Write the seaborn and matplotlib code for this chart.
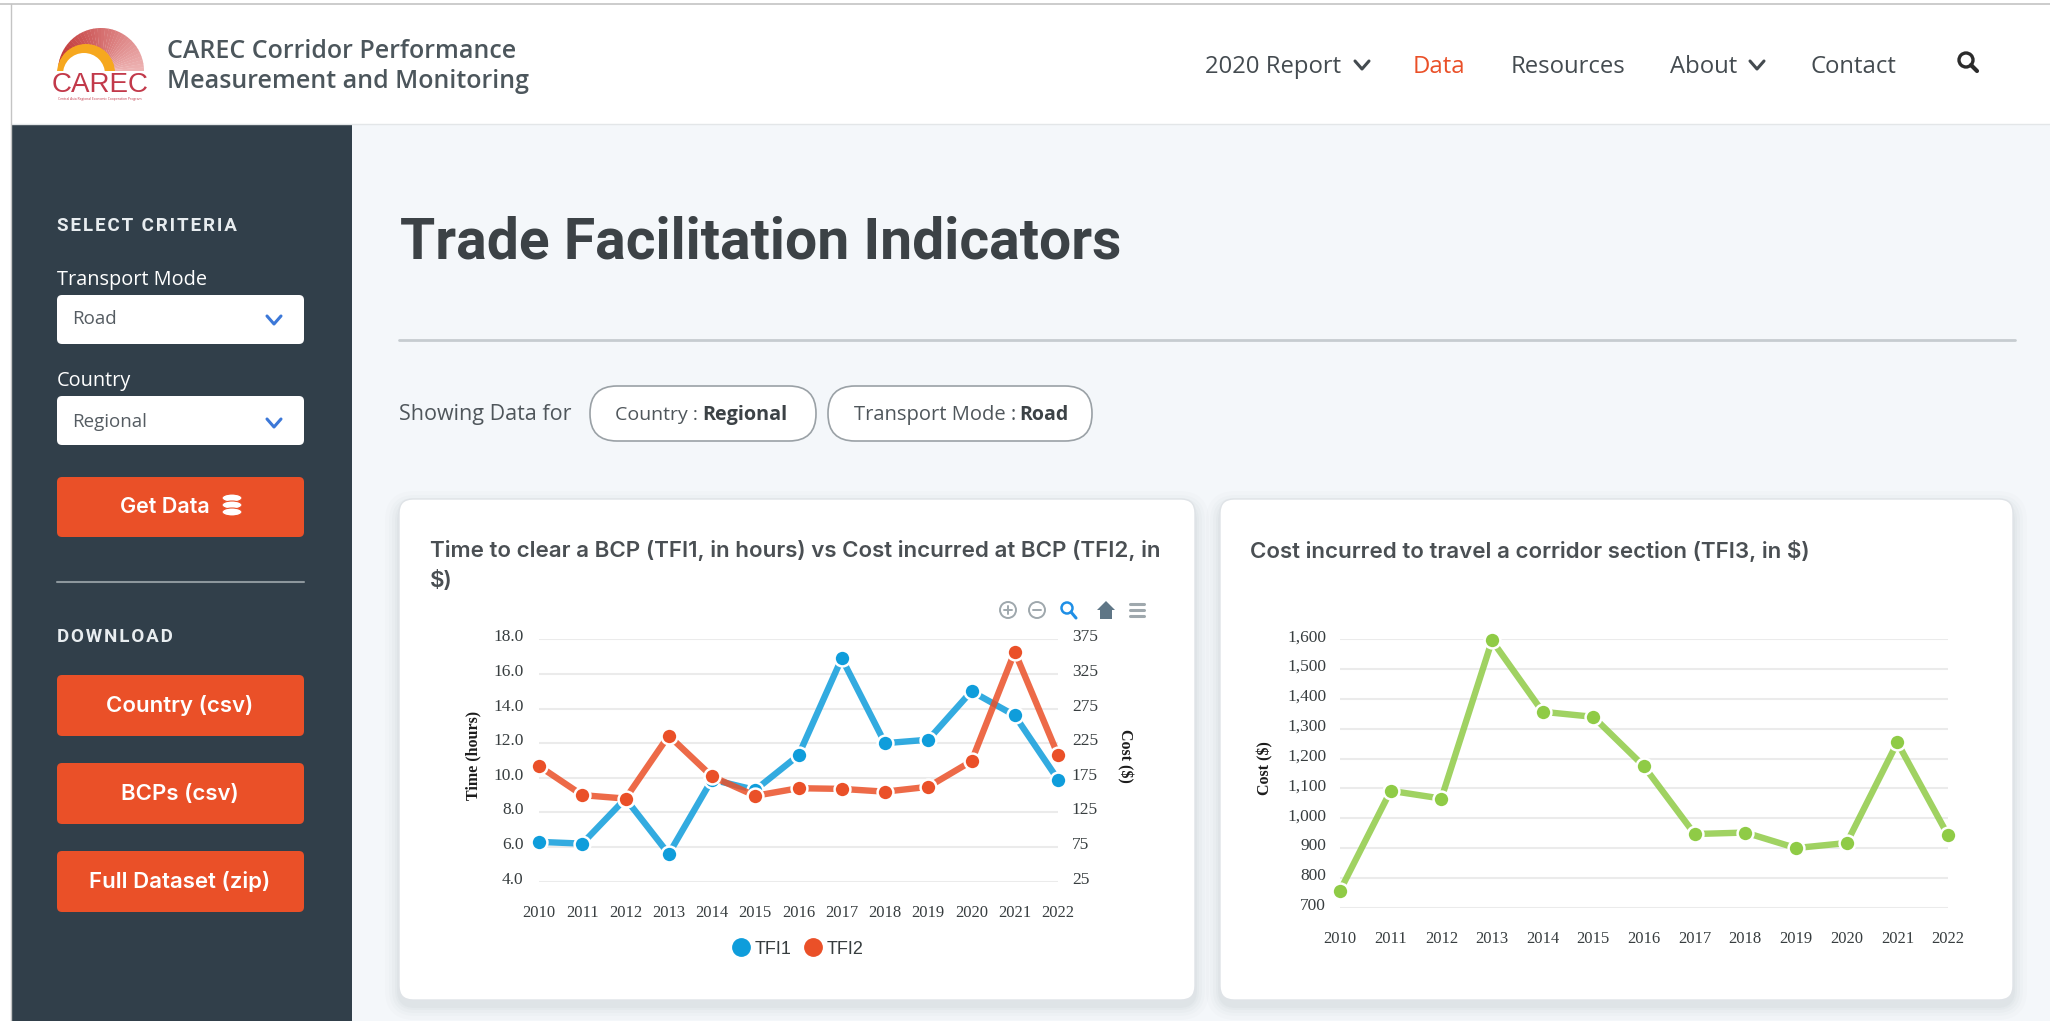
import matplotlib
matplotlib.use("Agg")
import matplotlib.pyplot as plt
import matplotlib.transforms as mtrans
from matplotlib.patches import FancyBboxPatch, Wedge, Circle, Ellipse, Polygon, Rectangle
from matplotlib.lines import Line2D
import numpy as np
import pandas as pd
import seaborn as sns

years = [2010, 2011, 2012, 2013, 2014, 2015, 2016, 2017, 2018, 2019, 2020, 2021, 2022]
tfi1_hours = [6.3, 6.2, 8.8, 5.6, 9.9, 9.3, 11.3, 16.9, 12.0, 12.2, 15.0, 13.6, 9.9]
tfi2_cost = [192, 150, 145, 236, 177, 149, 160, 159, 155, 162, 199, 357, 208]
tfi3_cost = [757, 1092, 1066, 1596, 1357, 1340, 1174, 947, 952, 900, 917, 1254, 943]
left_ticks = [4, 6, 8, 10, 12, 14, 16, 18]
right_ticks = [25, 75, 125, 175, 225, 275, 325, 375]
cost_ticks = [700, 800, 900, 1000, 1100, 1200, 1300, 1400, 1500, 1600]

BLUE, ORANGE, GREEN = "#0f9ddb", "#ea5028", "#8fcb46"
W, H = 2050, 1021

sns.set_theme(style="white")
plt.rcParams["font.family"] = ["Open Sans", "DejaVu Sans"]
fig = plt.figure(figsize=(W / 100, H / 100), dpi=100, facecolor="white")

bg = fig.add_axes([0, 0, 1, 1], zorder=0)
bg.set_xlim(0, W)
bg.set_ylim(H, 0)
bg.axis("off")


def T(x, y, s, size, color="#444b50", weight="normal", ha="left", va="center", family="Open Sans", **kw):
    if not kw.get("rotation"):
        y = y + 2.5
    return bg.text(x, y, s, fontsize=size, color=color, fontweight=weight, ha=ha, va=va,
                   family=[family, "DejaVu Sans"], **kw)


def R(x0, y0, x1, y1, fc, ec="none", lw=0, r=0, z=1, alpha=1):
    if r:
        p = FancyBboxPatch((x0, y0), x1 - x0, y1 - y0, boxstyle=f"round,pad=0,rounding_size={r}",
                           fc=fc, ec=ec, lw=lw, zorder=z, alpha=alpha)
    else:
        p = Rectangle((x0, y0), x1 - x0, y1 - y0, fc=fc, ec=ec, lw=lw, zorder=z, alpha=alpha)
    bg.add_patch(p)


def L(xs, ys, c, lw=1.5, z=3):
    bg.plot(xs, ys, color=c, lw=lw, zorder=z, solid_capstyle="round", solid_joinstyle="round")


def chevron(x, y, c, w=7, h=5, lw=2):
    L([x - w, x, x + w], [y - h, y + h, y - h], c, lw)


# page
R(11, 5, W, H, "#f4f7fa", z=0)
R(11, 5, W, 124, "white", z=1)
L([11, W], [124, 124], "#e3e6e8", 1)
L([0, W], [4, 4], "#c4c4c4", 1.2)
L([10.5, 10.5], [4, H], "#c4c4c4", 1)
R(11, 124, 352, H, "#313f4a", z=1)

# logo
cx, cy, rad = 101, 71, 43
n = 36
for i in range(n):
    a0 = 180 + i * 180 / n
    t = i / (n - 1)
    col = np.array([0.74, 0.16, 0.16]) * (1 - t) + np.array([0.93, 0.70, 0.70]) * t
    bg.add_patch(Wedge((cx, cy), rad, a0, a0 + 180 / n + .5, fc=col, ec="none", zorder=2))
bg.add_patch(Wedge((86, 73), 29, 180, 360, fc="#f6a81f", ec="none", zorder=3))
bg.add_patch(Wedge((84, 74), 21, 180, 360, fc="white", ec="none", zorder=4))
R(50, 71, 150, 78, "white", z=4)
T(100, 83, "CAREC", 20, color="#c2394a", ha="center", family="Liberation Sans", zorder=5)
T(100, 96.5, "Central Asia Regional Economic Cooperation Program", 2.4, color="#c2394a", ha="center")

# header
T(167, 48.5, "CAREC Corridor Performance", 18, color="#4c565c", weight="semibold")
T(167, 78.5, "Measurement and Monitoring", 18, color="#4c565c", weight="semibold")
NAV = 17.2
T(1205, 64.5, "2020 Report", NAV)
chevron(1362, 65, "#444b50", 7, 4, 2.2)
T(1413, 64.5, "Data", NAV, color="#ea5028")
T(1511, 64.5, "Resources", NAV)
T(1670, 64.5, "About", NAV)
chevron(1757, 65, "#444b50", 7, 4, 2.2)
T(1811, 64.5, "Contact", NAV)
bg.add_patch(Circle((1966, 60), 7, fc="none", ec="#2b2b2b", lw=2.4, zorder=3))
L([1971, 1977], [65, 71], "#2b2b2b", 3)

# sidebar
HS = "\u200a"
T(57, 223.5, HS.join("SELECT CRITERIA"), 13.5, color="#e8edf0", weight="bold", family="Roboto")
T(57, 277, "Transport Mode", 14.3, color="white")
R(57, 295, 304, 344, "white", r=5, z=2)
T(72, 316.5, "Road", 13.5, color="#555c62")
chevron(274, 320, "#3c78d8", 7, 4, 2.2)
T(57, 378, "Country", 14.3, color="white")
R(57, 396, 304, 445, "white", r=5, z=2)
T(72, 419, "Regional", 13.5, color="#555c62")
chevron(274, 423, "#3c78d8", 7, 4, 2.2)
R(57, 477, 304, 537, ORANGE, r=5, z=2)
T(120, 504.5, "Get Data", 15.5, color="white", weight="semibold", family="Inter")
for yy in (498, 505, 512):
    bg.add_patch(Ellipse((232, yy), 20, 8, fc="white", ec="#ea5028", lw=.8, zorder=4))
L([57, 304], [582, 582], "#8d979d", 1.5)
T(57, 634, HS.join("DOWNLOAD"), 13.5, color="#e8edf0", weight="bold", family="Roboto")
for y0, y1, s in [(675, 736, "Country (csv)"), (763, 824, "BCPs (csv)"), (851, 912, "Full Dataset (zip)")]:
    R(57, y0, 304, y1, ORANGE, r=5, z=2)
    T(180, (y0 + y1) / 2 - 2.5, s, 16, color="white", weight="semibold", ha="center", family="Inter")

# page heading
T(400, 240.5, "Trade Facilitation Indicators", 41, color="#3c4246", weight="bold", family="Roboto")
L([399, 2015], [340, 340], "#c6ccd0", 2)
T(399, 411.5, "Showing Data for", 15.5, color="#4f565b")
R(590, 386, 816, 441, "white", ec="#9aa1a6", lw=1.2, r=27, z=2)
T(698, 412, "Country :", 14, color="#4f565b", ha="right")
T(702, 412, "Regional", 14.2, color="#3c4246", weight="bold")
R(828, 386, 1092, 441, "white", ec="#9aa1a6", lw=1.2, r=27, z=2)
T(1016, 412, "Transport Mode :", 14.5, color="#4f565b", ha="right")
T(1019, 412, "Road", 14, color="#3c4246", weight="bold")

# cards
for x0, x1 in [(399, 1195), (1220, 2013)]:
    for i, g in enumerate([14, 10, 7, 4, 2]):
        R(x0 - g, 499 - g + 6, x1 + g, 1000 + g + 6, "#7f8a94", r=16 + g, z=2, alpha=0.022 + i * 0.006)
    R(x0, 499, x1, 1000, "white", ec="#dfe3e7", lw=1, r=14, z=3)
CT = 16.1
T(430, 548, "Time to clear a BCP (TFI1, in hours) vs Cost incurred at BCP (TFI2, in", CT,
  color="#4a4f53", weight="semibold", family="Inter", zorder=5)
T(430, 578, "$)", CT, color="#4a4f53", weight="semibold", family="Inter", zorder=5)
T(1250, 548, "Cost incurred to travel a corridor section (TFI3, in $)", CT,
  color="#4a4f53", weight="semibold", family="Inter", zorder=5)

# chart toolbar
gi = "#9fa8ad"
for x, c in [(1008, gi), (1037, gi)]:
    bg.add_patch(Circle((x, 610), 8, fc="none", ec=c, lw=1.4, zorder=5))
    L([x - 4, x + 4], [610, 610], c, 1.4, 5)
L([1008, 1008], [606, 614], gi, 1.4, 5)
bg.add_patch(Circle((1067, 608), 5.5, fc="none", ec="#1f8fe6", lw=1.8, zorder=5))
L([1071, 1076], [612, 618], "#1f8fe6", 2.2, 5)
bg.add_patch(Polygon([(1097, 610), (1106, 601), (1115, 610), (1112, 610), (1112, 619), (1100, 619), (1100, 610)],
                     fc="#5f7686", ec="none", zorder=5))
for yy in (604, 610, 616):
    L([1130, 1144], [yy, yy], "#9fa8ad", 2.2, 5)


def px_axes(x0, x1, ytop, ybot):
    a = fig.add_axes([x0 / W, 1 - ybot / H, (x1 - x0) / W, (ybot - ytop) / H], zorder=2)
    a.patch.set_alpha(0)
    return a


def style_axes(a, ticks, ylim, fmt, pad=11):
    a.set_ylim(*ylim)
    a.set_yticks(ticks)
    a.set_yticklabels([fmt(v) for v in ticks])
    a.set_xlim(2010, 2022)
    a.set_xticks(years)
    a.set_xticklabels([str(v) for v in years], family="Liberation Serif", fontsize=12, color="#373d3f")
    for s in a.spines.values():
        s.set_visible(False)
    a.tick_params(axis="y", length=0, pad=pad, labelsize=12.5, labelcolor="#373d3f")
    a.tick_params(axis="x", length=7, width=1, color="#e0e0e0", pad=10)
    off = mtrans.ScaledTranslation(0, 4 / 100, fig.dpi_scale_trans)
    for lab in a.get_yticklabels():
        lab.set_family("Liberation Serif")
        lab.set_transform(lab.get_transform() + off)


def draw_series(a, ys, col):
    d = pd.DataFrame({"year": years, "value": ys})
    sns.lineplot(data=d, x="year", y="value", ax=a, color=col, linewidth=4.6, alpha=.85, clip_on=False, zorder=3)
    sns.scatterplot(data=d, x="year", y="value", ax=a, color=col, s=130, edgecolor="white", linewidth=1.8,
                    clip_on=False, zorder=4)
    a.set_xlabel("")
    a.set_ylabel("")


# left chart
ax1 = px_axes(539, 1058, 639.3, 881.7)
draw_series(ax1, tfi1_hours, BLUE)
style_axes(ax1, left_ticks, (4, 18), lambda v: f"{v:.1f}")
ax1.grid(axis="y", color="#ebebeb", lw=1.5)
ax1.set_axisbelow(True)
ax2 = ax1.twinx()
ax2.patch.set_alpha(0)
draw_series(ax2, tfi2_cost, ORANGE)
style_axes(ax2, right_ticks, (25, 375), lambda v: f"{v:d}", pad=10)
ax2.grid(False)
T(473, 755, "Time (hours)", 11.5, color="#1c1c1c", weight="bold", ha="center", rotation=90,
  family="Liberation Serif", zorder=5)
T(1125, 756, "Cost ($)", 11.5, color="#1c1c1c", weight="bold", ha="center", rotation=270,
  family="Liberation Serif", zorder=5)
handles = [Line2D([], [], ls="none", marker="o", ms=12.5, color=BLUE),
           Line2D([], [], ls="none", marker="o", ms=12.5, color=ORANGE)]
fig.legend(handles, ["TFI1", "TFI2"], ncol=2, frameon=False, loc="center",
           bbox_to_anchor=(798 / W, 1 - 949 / H), bbox_transform=fig.transFigure,
           handlelength=1, handletextpad=.25, columnspacing=.7, prop={"family": "Liberation Sans", "size": 13},
           labelcolor="#373d3f")

# right chart
ax3 = px_axes(1340, 1948, 639.3, 907.7)
draw_series(ax3, tfi3_cost, GREEN)
style_axes(ax3, cost_ticks, (700, 1600), lambda v: f"{v:,d}", pad=10)
ax3.grid(axis="y", color="#ebebeb", lw=1.5)
ax3.set_axisbelow(True)
T(1265, 768, "Cost ($)", 11.5, color="#1c1c1c", weight="bold", ha="center", rotation=90,
  family="Liberation Serif", zorder=5)

fig.savefig("out.png", dpi=100, facecolor="white")
